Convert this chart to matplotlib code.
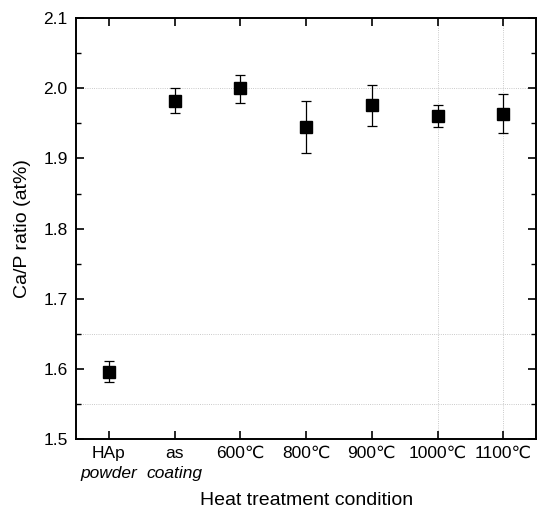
import matplotlib.pyplot as plt
from matplotlib.ticker import MultipleLocator

plt.rcParams['font.family'] = ['Liberation Sans', 'DejaVu Sans']

conditions = ['HAp', 'as', '600℃', '800℃', '900℃', '1000℃', '1100℃']
second_line = ['powder', 'coating', '', '', '', '', '']
ratio = [1.596, 1.982, 2.000, 1.945, 1.976, 1.960, 1.963]
err_low = [0.015, 0.017, 0.021, 0.037, 0.030, 0.015, 0.027]
err_high = [0.016, 0.018, 0.019, 0.037, 0.029, 0.016, 0.029]

x = list(range(1, len(conditions) + 1))

fig = plt.figure(figsize=(5.37, 5.16), dpi=100)
ax = fig.add_axes([0.1415, 0.149, 0.857, 0.816])

# faint dotted lines left over in the scan
for yv in [2.0, 1.65, 1.55]:
    ax.axhline(yv, color='#b8b8b8', ls=':', lw=0.6, zorder=0)
for xv in [6, 7]:
    ax.axvline(xv, color='#b8b8b8', ls=':', lw=0.6, zorder=0)

ax.errorbar(x, ratio, yerr=[err_low, err_high], fmt='s', color='black',
            ms=8.5, ecolor='black', elinewidth=0.9, capsize=3.5, capthick=0.9)

ax.set_xlim(0.5, 7.5)
ax.set_ylim(1.5, 2.1)
ax.set_xticks(x)
ax.set_xticklabels(conditions, fontsize=12.5)
ax.yaxis.set_major_locator(MultipleLocator(0.1))
ax.yaxis.set_minor_locator(MultipleLocator(0.05))
ax.tick_params(axis='both', which='both', direction='in', top=True, right=True)
ax.tick_params(axis='both', which='major', length=6, width=1.2, labelsize=12.5)
ax.tick_params(axis='y', which='minor', length=3.5, width=1.0)
ax.tick_params(axis='x', which='major', pad=5)
ax.tick_params(axis='y', which='major', pad=6)

for xi, lab in zip(x, second_line):
    if lab:
        ax.text(xi, -0.082, lab, transform=ax.get_xaxis_transform(),
                ha='center', va='center', fontsize=12.5, style='italic')

for s in ax.spines.values():
    s.set_linewidth(1.4)

ax.set_xlabel('Heat treatment condition', fontsize=14, labelpad=22)
ax.set_ylabel('Ca/P ratio (at%)', fontsize=14, labelpad=9)

fig.savefig('out.png', dpi=100)
